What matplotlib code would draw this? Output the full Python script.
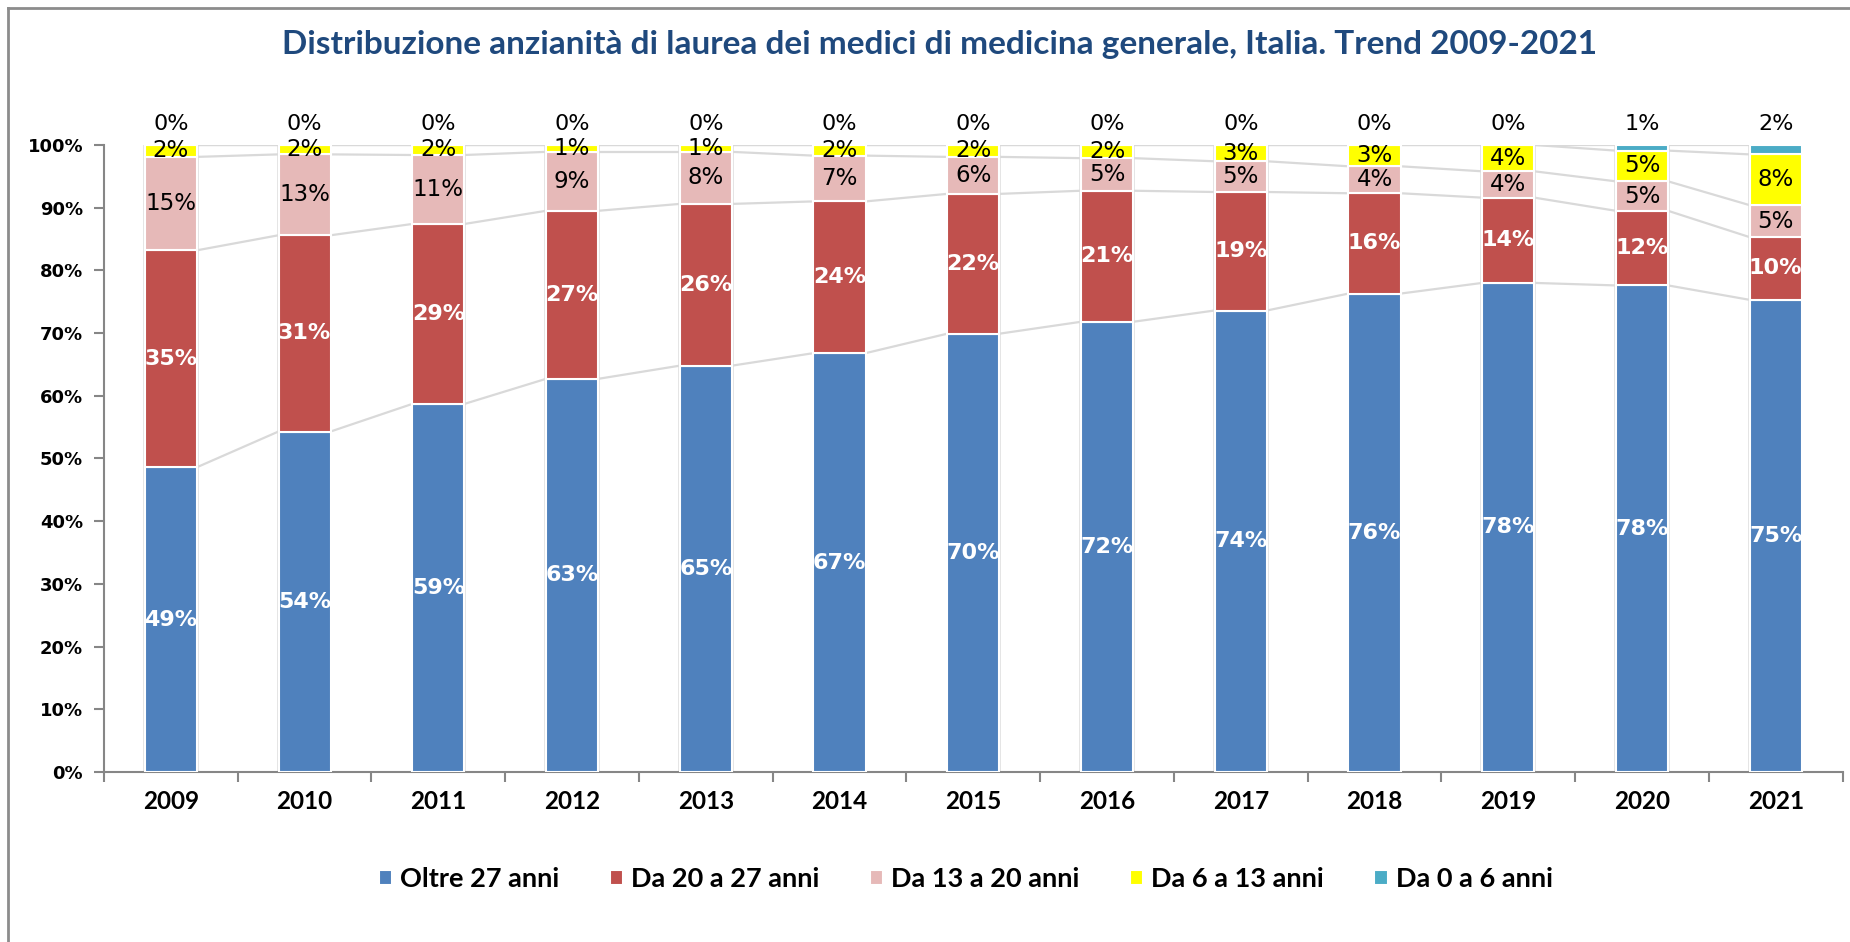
import matplotlib
matplotlib.use("Agg")
import matplotlib.pyplot as plt
from matplotlib.lines import Line2D
import numpy as np

years = ["2009", "2010", "2011", "2012", "2013", "2014", "2015",
         "2016", "2017", "2018", "2019", "2020", "2021"]
series_names = ["Oltre 27 anni", "Da 20 a 27 anni", "Da 13 a 20 anni",
                "Da 6 a 13 anni", "Da 0 a 6 anni"]
oltre_27 = [48.6, 54.3, 58.7, 62.7, 64.8, 66.8, 69.9, 71.8, 73.6, 76.3, 78.0, 77.6, 75.3]
da_20_27 = [34.6, 31.3, 28.7, 26.8, 25.8, 24.2, 22.3, 20.9, 18.9, 16.0, 13.6, 11.9, 10.0]
da_13_20 = [14.9, 12.9, 11.0, 9.4, 8.3, 7.3, 5.9, 5.2, 4.9, 4.3, 4.2, 4.7, 5.1]
da_6_13 = [1.9, 1.5, 1.6, 1.1, 1.1, 1.7, 1.9, 2.1, 2.6, 3.4, 4.2, 4.9, 8.1]
da_0_6 = [0.0, 0.0, 0.0, 0.0, 0.0, 0.0, 0.0, 0.0, 0.0, 0.0, 0.0, 0.9, 1.5]

title = "Distribuzione anzianità di laurea dei medici di medicina generale, Italia. Trend 2009-2021"

colors = ["#4F81BD", "#C0504D", "#E6B9B8", "#FFFF00", "#4BACC6"]
label_colors = ["white", "white", "black", "black", "black"]
label_weights = ["bold", "bold", "normal", "normal", "normal"]
label_sizes = [16, 16, 16.5, 16.5, 16]

data = [oltre_27, da_20_27, da_13_20, da_6_13, da_0_6]

fig = plt.figure(figsize=(18.5, 9.42), dpi=100)
ax = fig.add_axes([0.0562, 0.1805, 0.9398, 0.6656])

x = np.arange(len(years))
width = 0.39

# bar shadow
ax.bar(x, [100] * len(x), width=width + 0.025, color="#E4E4E4", zorder=1, linewidth=0)

bottom = np.zeros(len(x))
cum_levels = []
for i, (vals, name) in enumerate(zip(data, series_names)):
    vals = np.array(vals)
    ax.bar(x, vals, width=width, bottom=bottom, color=colors[i],
           edgecolor="white", linewidth=1.5, label=name, zorder=3)
    for j in range(len(x)):
        if i == 4:
            ypos = 103.3
        else:
            ypos = bottom[j] + vals[j] / 2
        ax.text(x[j], ypos, f"{vals[j]:.0f}%", ha="center", va="center",
                color=label_colors[i], fontweight=label_weights[i],
                fontsize=label_sizes[i], family="DejaVu Sans", zorder=5, clip_on=False)
    bottom = bottom + vals
    cum_levels.append(bottom.copy())

# series lines
for lev in cum_levels:
    for j in range(len(x) - 1):
        ax.plot([x[j] + width / 2, x[j + 1] - width / 2], [lev[j], lev[j + 1]],
                color="#D9D9D9", linewidth=1.6, zorder=2, solid_capstyle="butt")

ax.set_xlim(-0.5, len(x) - 0.5)
ax.set_ylim(0, 100)
ax.set_yticks(np.arange(0, 101, 10))
ax.set_yticklabels([f"{v}%" for v in range(0, 101, 10)], fontsize=13,
                   fontweight="bold", family="DejaVu Sans")
ax.set_xticks(x)
ax.set_xticklabels(years, fontsize=17.5, fontweight="bold", family="Lato")
ax.set_xticks(np.arange(-0.5, len(x), 1), minor=True)
ax.tick_params(axis="x", which="major", length=0, pad=13)
ax.tick_params(axis="x", which="minor", length=7, width=1.5, color="#868686")
ax.tick_params(axis="y", length=7, width=1.5, color="#868686", pad=8)

for s in ["top", "right"]:
    ax.spines[s].set_visible(False)
for s in ["left", "bottom"]:
    ax.spines[s].set_color("#868686")
    ax.spines[s].set_linewidth(1.5)

fig.text(0.508, 0.953, title, ha="center", va="center", fontsize=24,
         fontweight="bold", color="#1F497D", family="Lato")

leg = fig.legend(loc="center", bbox_to_anchor=(0.522, 0.067), ncol=5,
                 frameon=False, prop={"family": "Lato", "weight": "bold", "size": 19.5},
                 handlelength=0.5, handleheight=0.5, handletextpad=0.3,
                 columnspacing=1.85)

# outer frame
fig.add_artist(Line2D([0.0045, 0.0045], [0, 0.991], transform=fig.transFigure,
                      color="#8C8C8C", linewidth=2))
fig.add_artist(Line2D([0.0045, 1.0], [0.991, 0.991], transform=fig.transFigure,
                      color="#8C8C8C", linewidth=2))

fig.savefig("out.png", dpi=100, facecolor="white")
